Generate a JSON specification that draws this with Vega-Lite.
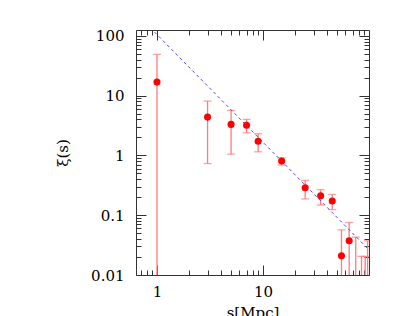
{
  "$schema": "https://vega.github.io/schema/vega-lite/v6.json",
  "width": 233,
  "height": 245,
  "autosize": {"type": "none"},
  "padding": {"left": 136, "top": 30, "right": 30, "bottom": 41},
  "background": "white",
  "datasets": {
    "pts": [
      {"s": 1, "xi": 16.8, "lo": 0.001, "hi": 48.9},
      {"s": 3, "xi": 4.37, "lo": 0.73, "hi": 8.1},
      {"s": 5, "xi": 3.3, "lo": 1.05, "hi": 5.65},
      {"s": 7, "xi": 3.2, "lo": 2.39, "hi": 4.0},
      {"s": 9, "xi": 1.72, "lo": 1.15, "hi": 2.3},
      {"s": 15, "xi": 0.805, "lo": 0.69, "hi": 0.915},
      {"s": 25, "xi": 0.288, "lo": 0.187, "hi": 0.382},
      {"s": 35, "xi": 0.212, "lo": 0.148, "hi": 0.267},
      {"s": 45, "xi": 0.173, "lo": 0.124, "hi": 0.222},
      {"s": 55, "xi": 0.021, "lo": 0.001, "hi": 0.0569},
      {"s": 65, "xi": 0.0373, "lo": 0.001, "hi": 0.0755},
      {"s": 75, "xi": null, "lo": 0.001, "hi": 0.043},
      {"s": 85, "xi": null, "lo": 0.001, "hi": 0.0205},
      {"s": 92, "xi": null, "lo": 0.001, "hi": 0.0205},
      {"s": 97, "xi": null, "lo": 0.001, "hi": 0.0373}
    ],
    "fit": [
      {"s": 0.5, "xi": 365},
      {"s": 100, "xi": 0.0263}
    ]
  },
  "resolve": {"axis": {"x": "independent", "y": "independent"}},
  "layer": [
    {
      "data": {"name": "pts"},
      "mark": {"type": "rule", "color": "#ff7b7b", "strokeWidth": 1.3, "clip": true},
      "encoding": {
        "x": {"field": "s", "type": "quantitative",
          "scale": {"type": "log", "domain": [0.634, 100], "nice": false},
          "axis": {"orient": "bottom", "values": [1, 10], "format": "~g", "tickSize": -10, "labelPadding": 19, "title": "s[Mpc]", "titlePadding": 6}},
        "y": {"field": "lo", "type": "quantitative",
          "scale": {"type": "log", "domain": [0.01, 125], "nice": false},
          "axis": {"orient": "left", "values": [0.01, 0.1, 1, 10, 100], "format": "~g", "tickSize": -10, "labelPadding": 22, "title": "ξ(s)", "titlePadding": 20}},
        "y2": {"field": "hi"}
      }
    },
    {
      "data": {"name": "pts"},
      "mark": {"type": "tick", "orient": "horizontal", "color": "#ff7b7b", "size": 8, "thickness": 1.3, "clip": true},
      "encoding": {
        "x": {"field": "s", "type": "quantitative",
          "axis": {"orient": "bottom", "values": [0.7, 0.8, 0.9, 2, 3, 4, 5, 6, 7, 8, 9, 20, 30, 40, 50, 60, 70, 80, 90], "tickSize": -5, "labels": false, "title": null}},
        "y": {"field": "lo", "type": "quantitative",
          "axis": {"orient": "left", "values": [0.02, 0.03, 0.04, 0.05, 0.06, 0.07, 0.08, 0.09, 0.2, 0.3, 0.4, 0.5, 0.6, 0.7, 0.8, 0.9, 2, 3, 4, 5, 6, 7, 8, 9, 20, 30, 40, 50, 60, 70, 80, 90], "tickSize": -5, "labels": false, "title": null}}
      }
    },
    {
      "data": {"name": "pts"},
      "mark": {"type": "tick", "orient": "horizontal", "color": "#ff7b7b", "size": 8, "thickness": 1.3, "clip": true},
      "encoding": {
        "x": {"field": "s", "type": "quantitative",
          "axis": {"orient": "top", "values": [1, 10], "tickSize": -10, "labels": false, "title": null}},
        "y": {"field": "hi", "type": "quantitative",
          "axis": {"orient": "right", "values": [0.01, 0.1, 1, 10, 100], "tickSize": -10, "labels": false, "title": null}}
      }
    },
    {
      "data": {"name": "fit"},
      "mark": {"type": "line", "color": "#4848ff", "strokeWidth": 1, "strokeDash": [3, 3], "clip": true},
      "encoding": {
        "x": {"field": "s", "type": "quantitative",
          "axis": {"orient": "top", "values": [0.7, 0.8, 0.9, 2, 3, 4, 5, 6, 7, 8, 9, 20, 30, 40, 50, 60, 70, 80, 90], "tickSize": -5, "labels": false, "title": null}},
        "y": {"field": "xi", "type": "quantitative",
          "axis": {"orient": "right", "values": [0.02, 0.03, 0.04, 0.05, 0.06, 0.07, 0.08, 0.09, 0.2, 0.3, 0.4, 0.5, 0.6, 0.7, 0.8, 0.9, 2, 3, 4, 5, 6, 7, 8, 9, 20, 30, 40, 50, 60, 70, 80, 90], "tickSize": -5, "labels": false, "title": null}}
      }
    },
    {
      "data": {"name": "pts"},
      "mark": {"type": "circle", "color": "#ff0000", "size": 50, "opacity": 1, "clip": true},
      "encoding": {
        "x": {"field": "s", "type": "quantitative", "axis": null},
        "y": {"field": "xi", "type": "quantitative", "axis": null}
      }
    }
  ],
  "config": {
    "view": {"stroke": "#333333", "strokeWidth": 1},
    "axis": {
      "domain": false,
      "grid": false,
      "tickColor": "#333333",
      "tickWidth": 1,
      "labelFont": "DejaVu Serif",
      "labelFontSize": 15,
      "labelColor": "#000000",
      "titleFont": "DejaVu Serif",
      "titleFontSize": 15,
      "titleFontWeight": "normal",
      "titleColor": "#000000"
    }
  }
}
